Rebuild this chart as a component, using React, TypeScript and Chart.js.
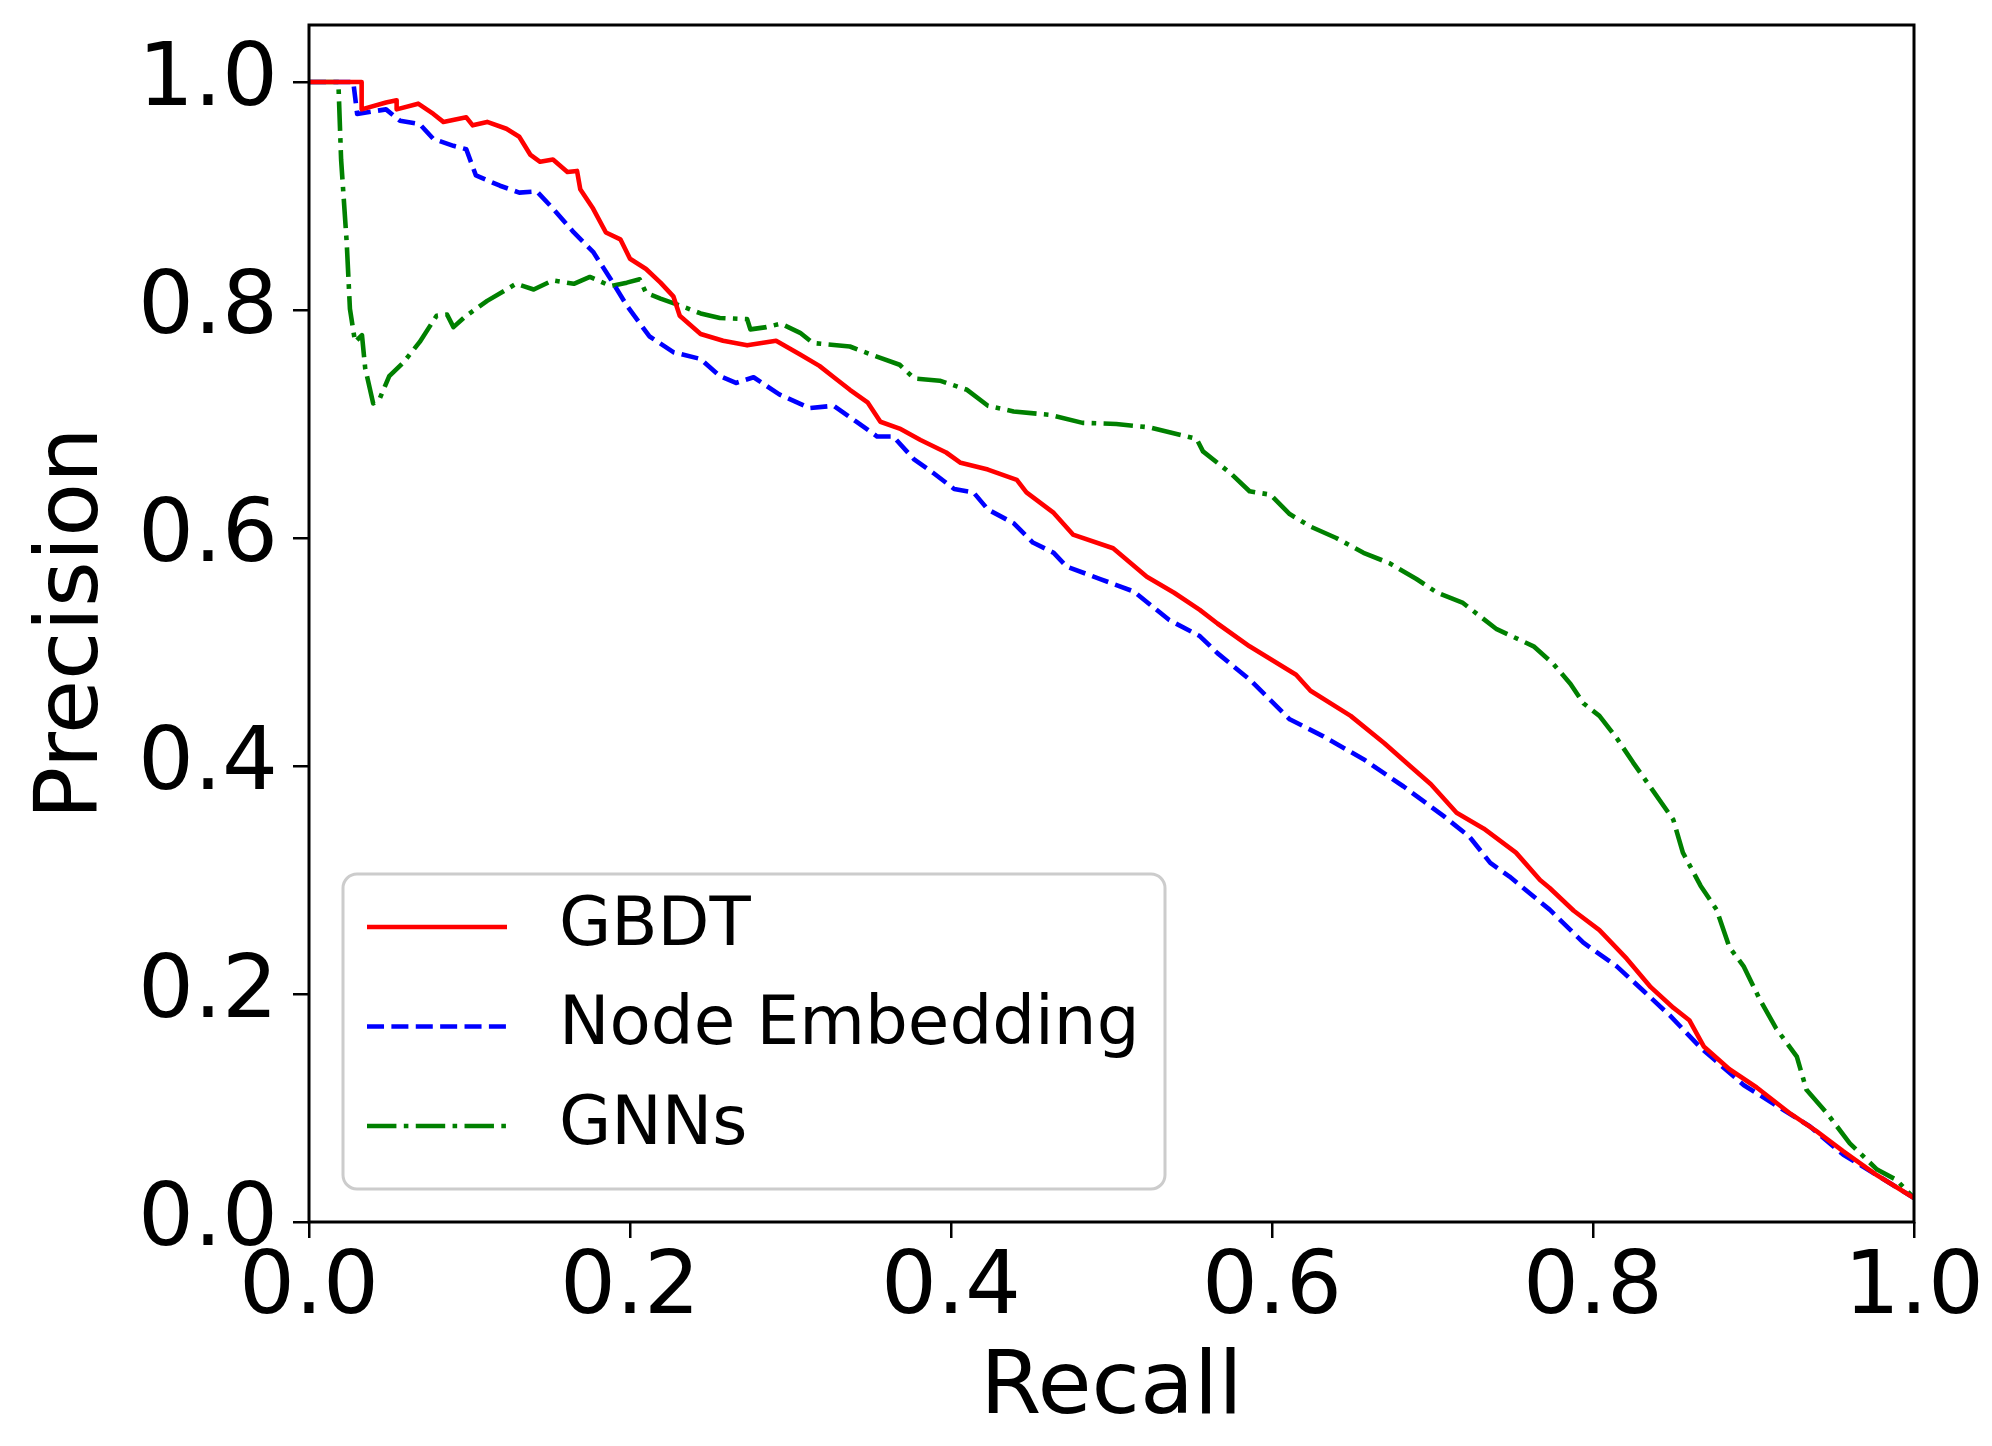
import React, { useEffect, useRef } from 'react';
import { Chart, registerables } from 'chart.js';

Chart.register(...registerables);

const WIDTH = 1992;
const HEIGHT = 1446;

// values (recall, precision)
const gbdtRecall = [
  0, 0.0328, 0.0328, 0.048, 0.0546, 0.0546, 0.068, 0.0775, 0.0837, 0.098, 0.102, 0.111, 0.123, 0.131,
  0.138, 0.144, 0.152, 0.161, 0.167, 0.169, 0.177, 0.185, 0.194, 0.2, 0.21, 0.219, 0.227, 0.231, 0.244,
  0.258, 0.273, 0.291, 0.306, 0.318, 0.327, 0.337, 0.348, 0.356, 0.368, 0.381, 0.397, 0.406, 0.423,
  0.441, 0.447, 0.464, 0.476, 0.501, 0.522, 0.539, 0.555, 0.566, 0.586, 0.615, 0.624, 0.649, 0.67,
  0.686, 0.699, 0.715, 0.732, 0.752, 0.767, 0.773, 0.788, 0.804, 0.821, 0.836, 0.85, 0.86, 0.869,
  0.885, 0.902, 0.923, 0.939, 0.956, 0.977, 1.0,
];
const gbdtPrecision = [
  1.0, 1.0, 0.976, 0.982, 0.984, 0.976, 0.981, 0.972, 0.965, 0.969, 0.962, 0.965, 0.959, 0.952,
  0.936, 0.93, 0.932, 0.921, 0.922, 0.906, 0.889, 0.868, 0.862, 0.845, 0.836, 0.824, 0.812, 0.795, 0.779,
  0.773, 0.769, 0.773, 0.761, 0.751, 0.741, 0.73, 0.719, 0.702, 0.696, 0.686, 0.675, 0.666, 0.66,
  0.651, 0.64, 0.622, 0.603, 0.591, 0.566, 0.552, 0.537, 0.525, 0.505, 0.48, 0.466, 0.444, 0.42,
  0.4, 0.384, 0.359, 0.345, 0.324, 0.3, 0.293, 0.273, 0.256, 0.231, 0.206, 0.188, 0.177, 0.154,
  0.134, 0.118, 0.095, 0.08, 0.062, 0.041, 0.021,
];

const nodeRecall = [
  0, 0.0276, 0.03, 0.048, 0.0567, 0.069, 0.0775, 0.09, 0.098, 0.104, 0.119, 0.131, 0.142, 0.152,
  0.165, 0.177, 0.188, 0.198, 0.212, 0.227, 0.244, 0.256, 0.266, 0.277, 0.293, 0.312, 0.327, 0.341,
  0.354, 0.364, 0.377, 0.389, 0.402, 0.414, 0.423, 0.439, 0.451, 0.464, 0.472, 0.493, 0.514, 0.536,
  0.555, 0.566, 0.586, 0.611, 0.632, 0.657, 0.682, 0.707, 0.723, 0.736, 0.748, 0.773, 0.794, 0.815,
  0.832, 0.848, 0.867, 0.894, 0.919, 0.935, 0.956, 0.977, 1.0,
];
const nodePrecision = [
  1.0, 1.0, 0.972, 0.976, 0.966, 0.963, 0.95, 0.944, 0.941, 0.918, 0.909, 0.903, 0.904, 0.889,
  0.868, 0.851, 0.827, 0.804, 0.777, 0.763, 0.757, 0.742, 0.736, 0.741, 0.726, 0.714, 0.716, 0.702,
  0.689, 0.689, 0.669, 0.657, 0.643, 0.64, 0.625, 0.613, 0.596, 0.587, 0.575, 0.564, 0.553, 0.528,
  0.514, 0.499, 0.476, 0.441, 0.426, 0.406, 0.382, 0.356, 0.338, 0.315, 0.303, 0.274, 0.245, 0.224,
  0.202, 0.181, 0.153, 0.12, 0.098, 0.084, 0.059, 0.041, 0.021,
];

const gnnRecall = [
  0, 0.0183, 0.02, 0.0235, 0.0255, 0.0287, 0.033, 0.035, 0.04, 0.044, 0.05, 0.0588, 0.069, 0.0795,
  0.086, 0.09, 0.098, 0.111, 0.129, 0.14, 0.152, 0.165, 0.175, 0.188, 0.198, 0.206, 0.21, 0.219,
  0.231, 0.244, 0.256, 0.273, 0.275, 0.285, 0.294, 0.306, 0.314, 0.337, 0.352, 0.368, 0.377, 0.393,
  0.41, 0.423, 0.439, 0.462, 0.482, 0.503, 0.524, 0.553, 0.557, 0.574, 0.586, 0.599, 0.611, 0.624,
  0.64, 0.657, 0.673, 0.69, 0.703, 0.719, 0.74, 0.763, 0.775, 0.786, 0.794, 0.804, 0.815, 0.825,
  0.836, 0.85, 0.856, 0.867, 0.877, 0.885, 0.894, 0.904, 0.914, 0.927, 0.933, 0.946, 0.96, 0.977,
  0.989, 1.0,
];
const gnnPrecision = [
  1.0, 1.0, 0.932, 0.859, 0.801, 0.772, 0.778, 0.749, 0.718, 0.722, 0.742, 0.754, 0.772, 0.795,
  0.796, 0.785, 0.795, 0.808, 0.823, 0.818, 0.826, 0.823, 0.829, 0.821, 0.824, 0.827, 0.815, 0.81,
  0.804, 0.797, 0.793, 0.792, 0.783, 0.785, 0.788, 0.78, 0.771, 0.768, 0.76, 0.752, 0.74, 0.738,
  0.73, 0.716, 0.711, 0.708, 0.701, 0.7, 0.697, 0.687, 0.676, 0.657, 0.641, 0.638, 0.621, 0.61,
  0.6, 0.587, 0.578, 0.564, 0.552, 0.543, 0.52, 0.505, 0.49, 0.472, 0.455, 0.444, 0.424, 0.403,
  0.381, 0.353, 0.324, 0.295, 0.274, 0.241, 0.224, 0.195, 0.17, 0.145, 0.116, 0.095, 0.069, 0.046,
  0.037, 0.021,
];

const seriesLabels = ['GBDT', 'Node Embedding', 'GNNs'];
const seriesColors = ['#ff0000', '#0000ff', '#008000'];
const xTicks = [0, 0.2, 0.4, 0.6, 0.8, 1.0];
const yTicks = [0, 0.2, 0.4, 0.6, 0.8, 1.0];

const LW = 4.6;
const dashPatterns = [[], [3.7 * LW, 1.6 * LW], [6.4 * LW, 1.6 * LW, 1.0 * LW, 1.6 * LW]];

const toPoints = (xs: number[], ys: number[]) => xs.map((x, i) => ({ x, y: ys[i] }));

// draws the four spines over the curves, like matplotlib
const framePlugin = {
  id: 'frame',
  afterDatasetsDraw(chart: any) {
    const { ctx, chartArea } = chart;
    ctx.save();
    ctx.strokeStyle = '#000';
    ctx.lineWidth = 3;
    ctx.strokeRect(chartArea.left, chartArea.top, chartArea.right - chartArea.left, chartArea.bottom - chartArea.top);
    ctx.restore();
  },
};

// legend box in the lower left of the plot
const legendPlugin = {
  id: 'boxLegend',
  afterDraw(chart: any) {
    const { ctx } = chart;
    ctx.save();
    ctx.beginPath();
    ctx.roundRect(343, 874, 822, 315, 14);
    ctx.fillStyle = 'rgba(255,255,255,0.8)';
    ctx.fill();
    ctx.strokeStyle = '#cccccc';
    ctx.lineWidth = 3;
    ctx.stroke();

    seriesLabels.forEach((label, i) => {
      const y = 927 + i * 99.5;
      ctx.beginPath();
      ctx.setLineDash(dashPatterns[i]);
      ctx.strokeStyle = seriesColors[i];
      ctx.lineWidth = LW;
      ctx.lineCap = 'butt';
      ctx.moveTo(367, y);
      ctx.lineTo(507, y);
      ctx.stroke();
      ctx.setLineDash([]);
      ctx.fillStyle = '#000';
      ctx.font = '67.5px "DejaVu Sans"';
      ctx.textBaseline = 'middle';
      ctx.textAlign = 'left';
      ctx.fillText(label, 559, y);
    });
    ctx.restore();
  },
};

const App = () => {
  const canvasRef = useRef<HTMLCanvasElement>(null);
  const chartRef = useRef<Chart | null>(null);

  useEffect(() => {
    document.body.style.margin = '0';
    const ctx = canvasRef.current!.getContext('2d')!;

    Chart.defaults.font.family = '"DejaVu Sans"';
    Chart.defaults.color = '#000';

    const series = [
      toPoints(gbdtRecall, gbdtPrecision),
      toPoints(nodeRecall, nodePrecision),
      toPoints(gnnRecall, gnnPrecision),
    ];

    chartRef.current = new Chart(ctx, {
      type: 'line',
      data: {
        datasets: series.map((pts, i) => ({
          label: seriesLabels[i],
          data: pts,
          borderColor: seriesColors[i],
          backgroundColor: seriesColors[i],
          borderWidth: LW,
          borderDash: dashPatterns[i],
          borderJoinStyle: 'round' as const,
          pointRadius: 0,
          tension: 0,
          fill: false,
        })),
      },
      options: {
        animation: false,
        responsive: false,
        layout: { padding: { top: 25, right: 78, bottom: 0, left: 0 } },
        plugins: {
          legend: { display: false },
          tooltip: { enabled: false },
        },
        scales: {
          x: {
            type: 'linear',
            min: 0,
            max: 1,
            afterBuildTicks: (s: any) => {
              s.ticks = xTicks.map(v => ({ value: v }));
            },
            afterFit: (s: any) => {
              s.height = HEIGHT - 1222;
              s.paddingLeft = 0;
              s.paddingRight = 0;
            },
            ticks: {
              callback: (v: any) => Number(v).toFixed(1),
              font: { size: 88, lineHeight: 1 },
              color: '#000',
              padding: 8,
              maxRotation: 0,
              autoSkip: false,
            },
            grid: { drawOnChartArea: false, drawTicks: true, tickLength: 16, color: '#000', lineWidth: 2.5 },
            border: { display: false },
            title: {
              display: true,
              text: 'Recall',
              font: { size: 88, lineHeight: 1.2 },
              color: '#000',
              padding: { top: 0, bottom: 3 },
            },
          },
          y: {
            type: 'linear',
            min: 0,
            max: 1.05,
            afterBuildTicks: (s: any) => {
              s.ticks = yTicks.map(v => ({ value: v }));
            },
            afterFit: (s: any) => {
              s.width = 309;
              s.paddingTop = 0;
              s.paddingBottom = 0;
            },
            ticks: {
              callback: (v: any) => Number(v).toFixed(1),
              font: { size: 88, lineHeight: 1 },
              color: '#000',
              padding: 15,
              autoSkip: false,
            },
            grid: { drawOnChartArea: false, drawTicks: true, tickLength: 16, color: '#000', lineWidth: 2.5 },
            border: { display: false },
            title: {
              display: true,
              text: 'Precision',
              font: { size: 88, lineHeight: 1.2 },
              color: '#000',
              padding: { top: 21, bottom: 0 },
            },
          },
        },
      },
      plugins: [framePlugin, legendPlugin],
    });

    return () => {
      if (chartRef.current) {
        chartRef.current.destroy();
      }
    };
  }, []);

  return (
    <div style={{ width: WIDTH, height: HEIGHT, background: '#fff' }}>
      <canvas ref={canvasRef} width={WIDTH} height={HEIGHT} style={{ width: WIDTH, height: HEIGHT, display: 'block' }} />
    </div>
  );
};

export default App;
